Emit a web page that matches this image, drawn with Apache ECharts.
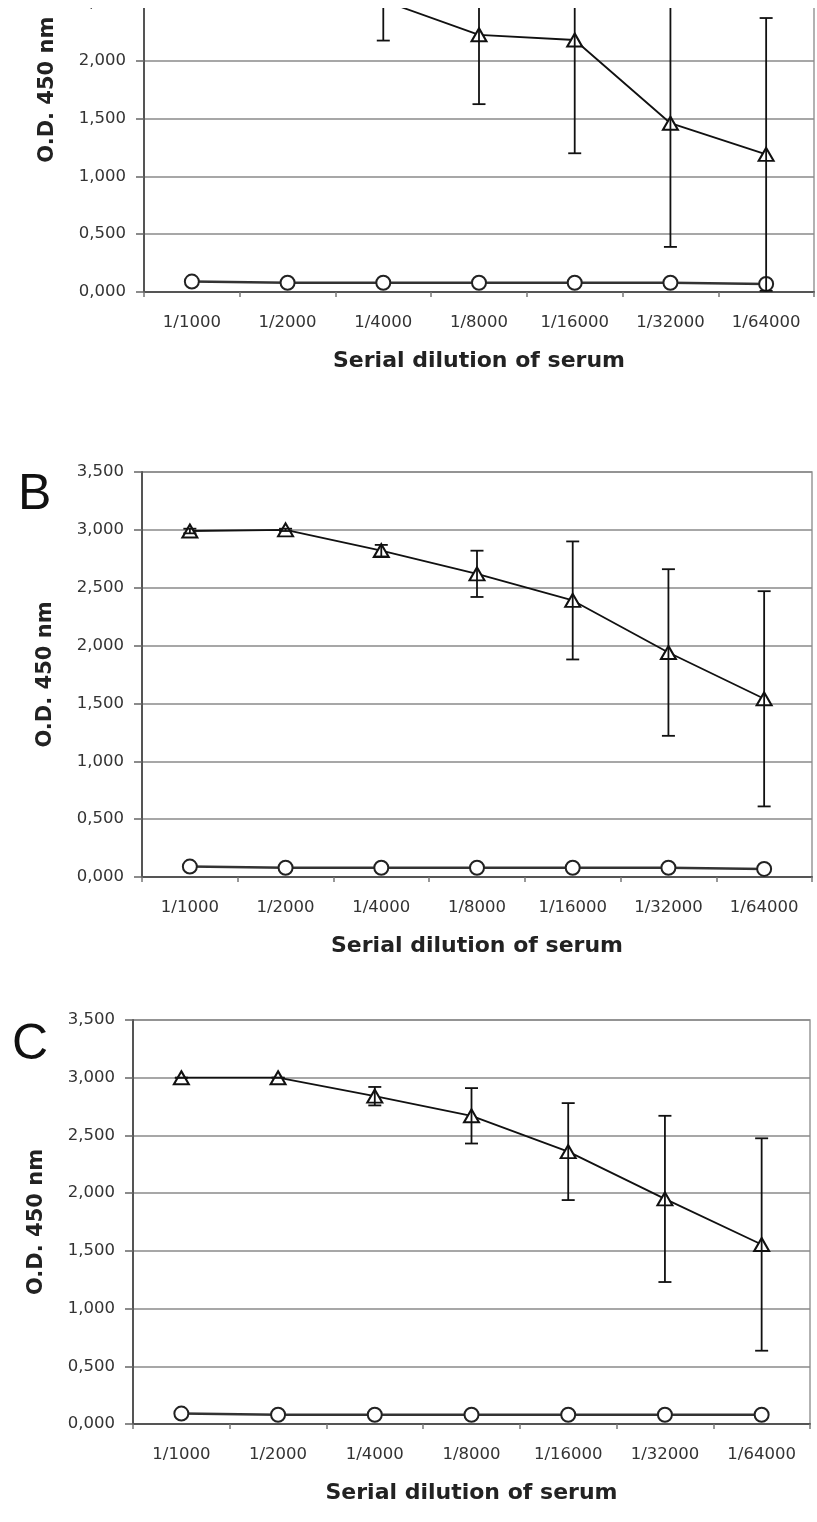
<!DOCTYPE html>
<html>
<head>
<meta charset="utf-8">
<script src="https://cdn.jsdelivr.net/npm/echarts@6/dist/echarts.min.js"></script>
<style>
  html, body { margin: 0; padding: 0; background: #fff; }
  #chart { width: 817px; height: 1522px; }
</style>
</head>
<body>
<div id="chart"></div>
<script>
// dilutions on the x axis
const dilutions = ['1/1000', '1/2000', '1/4000', '1/8000', '1/16000', '1/32000', '1/64000'];
const yTicks = [0, 0.5, 1, 1.5, 2, 2.5, 3, 3.5];

// panel A (top part cut off in the figure)
const aTriMean = [3.0, 3.0, 2.52, 2.225, 2.18, 1.46, 1.19];
const aTriSd = [0.02, 0.02, 0.345, 0.60, 0.98, 1.07, 1.18];
const aCircle = [0.09, 0.08, 0.08, 0.08, 0.08, 0.08, 0.07];

// panel B
const bTriMean = [2.99, 3.0, 2.82, 2.62, 2.39, 1.94, 1.54];
const bTriSd = [0.02, 0.01, 0.05, 0.20, 0.51, 0.72, 0.93];
const bCircle = [0.09, 0.08, 0.08, 0.08, 0.08, 0.08, 0.07];

// panel C
const cTriMean = [3.0, 3.0, 2.84, 2.67, 2.36, 1.95, 1.555];
const cTriSd = [0, 0, 0.08, 0.24, 0.42, 0.72, 0.92];
const cCircle = [0.09, 0.08, 0.08, 0.08, 0.08, 0.08, 0.08];

const panels = [
    { mean: aTriMean, sd: aTriSd, circ: aCircle, grid: { left: 144, right: 3, top: -112.6, height: 404.6 } },
    { mean: bTriMean, sd: bTriSd, circ: bCircle, grid: { left: 142, right: 5, top: 472, height: 405 } },
    { mean: cTriMean, sd: cTriSd, circ: cCircle, grid: { left: 133, right: 7, top: 1020, height: 404 } }
];

const font = 'DejaVu Sans';

let grids = [], xAxes = [], yAxes = [], series = [];

panels.forEach((p, k) => {
    grids.push(Object.assign({
        show: true,
        borderColor: '#999',
        borderWidth: 1.5,
        backgroundColor: 'transparent',
        containLabel: false,
        outerBoundsMode: 'none'
    }, p.grid));

    xAxes.push({
        type: 'category',
        gridIndex: k,
        data: dilutions,
        boundaryGap: true,
        name: 'Serial dilution of serum',
        nameLocation: 'middle',
        nameGap: 58,
        nameTextStyle: { fontFamily: font, fontSize: 22, fontWeight: 'bold', color: '#222' },
        axisLine: { lineStyle: { color: '#555', width: 2 } },
        axisTick: { show: true, length: 5, lineStyle: { color: '#777', width: 1.5 } },
        axisLabel: { fontFamily: font, fontSize: 16.5, color: '#333', margin: 22, interval: 0 },
        splitLine: { show: false }
    });

    yAxes.push({
        type: 'value',
        gridIndex: k,
        min: yTicks[0],
        max: yTicks[yTicks.length - 1],
        interval: 0.5,
        name: 'O.D. 450 nm',
        nameLocation: 'middle',
        nameGap: 86,
        nameTextStyle: { fontFamily: font, fontSize: 21, fontWeight: 'bold', color: '#222' },
        axisLine: { show: true, lineStyle: { color: '#555', width: 2 } },
        axisTick: { show: true, length: 8, lineStyle: { color: '#666', width: 1.5 } },
        axisLabel: {
            fontFamily: font, fontSize: 16.5, color: '#333', margin: 18,
            formatter: v => v.toFixed(3).replace('.', ',')
        },
        splitLine: { show: true, lineStyle: { color: '#8a8a8a', width: 1.5 } }
    });

    series.push({
        type: 'line',
        xAxisIndex: k, yAxisIndex: k,
        data: p.circ,
        symbol: 'emptyCircle',
        symbolSize: 14,
        lineStyle: { color: '#333', width: 2.5 },
        itemStyle: { color: '#222', borderWidth: 2 },
        z: 3
    });

    series.push({
        type: 'line',
        xAxisIndex: k, yAxisIndex: k,
        data: p.mean,
        symbol: 'emptyTriangle',
        symbolSize: [15, 13],
        lineStyle: { color: '#111', width: 1.8 },
        itemStyle: { color: '#111', borderWidth: 1.8 },
        z: 4
    });

    // error bars (mean +/- sd)
    series.push({
        type: 'custom',
        xAxisIndex: k, yAxisIndex: k,
        data: p.mean.map((m, i) => [i, m - p.sd[i], m + p.sd[i]]),
        encode: { x: 0, y: [1, 2] },
        z: 5,
        renderItem: (params, api) => {
            let lo = api.coord([api.value(0), api.value(1)]);
            let hi = api.coord([api.value(0), api.value(2)]);
            let w = 6.5;
            let style = { stroke: '#111', lineWidth: 1.8 };
            return {
                type: 'group',
                children: [
                    { type: 'line', shape: { x1: lo[0], y1: lo[1], x2: hi[0], y2: hi[1] }, style: style },
                    { type: 'line', shape: { x1: hi[0] - w, y1: hi[1], x2: hi[0] + w, y2: hi[1] }, style: style },
                    { type: 'line', shape: { x1: lo[0] - w, y1: lo[1], x2: lo[0] + w, y2: lo[1] }, style: style }
                ]
            };
        }
    });
});

var dom = document.getElementById('chart');
var chart = echarts.init(dom, null, { renderer: 'canvas' });

chart.setOption({
    animation: false,
    backgroundColor: '#fff',
    grid: grids,
    xAxis: xAxes,
    yAxis: yAxes,
    series: series,
    graphic: [
        // the figure is cut off at the top
        { type: 'rect', left: 0, top: 0, shape: { width: 817, height: 8 }, style: { fill: '#fff' }, z: 100 },
        { type: 'text', left: 18, top: 470, style: { text: 'B', font: '50px "Liberation Sans"', fill: '#111' }, z: 100 },
        { type: 'text', left: 12, top: 1020, style: { text: 'C', font: '50px "Liberation Sans"', fill: '#111' }, z: 100 }
    ]
});
</script>
</body>
</html>
